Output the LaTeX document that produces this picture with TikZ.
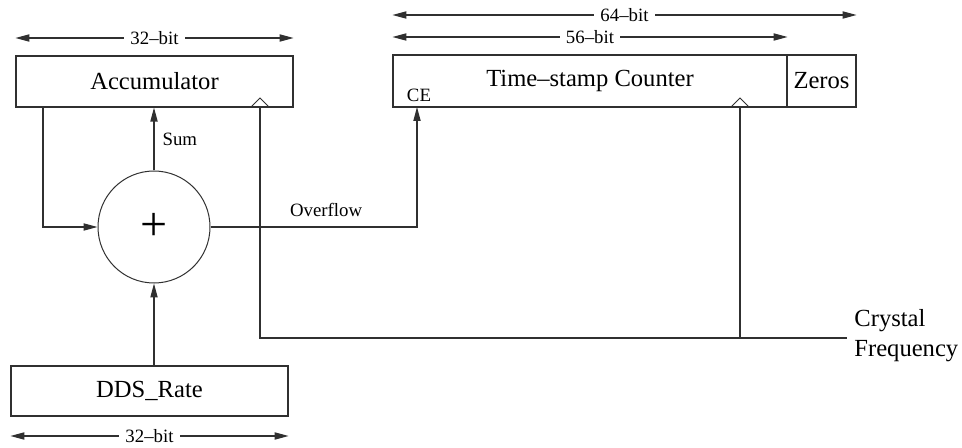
\documentclass[tikz,border=0pt]{standalone}
\usepackage{fontspec}
\setmainfont{Liberation Serif}
\usetikzlibrary{arrows.meta,positioning,calc}
\definecolor{Wire}{HTML}{303030}

\tikzset{
  block/.style={draw=Wire, line width=0.6pt, inner sep=0pt, font=\fontsize{12.3}{14}\selectfont},
  wire/.style={draw=Wire, line width=0.6pt},
  sig/.style={wire, -{Triangle[length=7pt,width=3.6pt]}},
  dim/.style={wire, {Triangle[length=7pt,width=3.6pt]}-{Triangle[length=7pt,width=3.6pt]}},
  dimlabel/.style={fill=white, inner sep=3pt, font=\fontsize{9.4}{11}\selectfont},
  small/.style={font=\fontsize{9.4}{11}\selectfont, inner sep=1pt},
  clk/.style={draw=Wire, line width=0.5pt}
}

\begin{document}
\begin{tikzpicture}[x=0.5pt, y=-0.5pt]
        \useasboundingbox (0,0) rectangle (962,448);

        % blocks
        \node[block, minimum width=138.5pt, minimum height=25.5pt] (acc) at (154.5,81.5) {Accumulator};
        \node[block, minimum width=197pt, minimum height=26pt] (tsc) at (590,81) {Time--stamp Counter};
        \node[block, minimum width=34.5pt, minimum height=26pt] (zeros) at (821.5,81) {Zeros};
        \node[block, minimum width=138.5pt, minimum height=25pt] (dds) at (149.5,391) {DDS\_Rate};
        \node[draw=Wire, line width=0.5pt, circle, minimum size=56pt, inner sep=0pt,
              font=\fontsize{24}{28}\selectfont] (sum) at (154,227) {+};

        % points on the block edges
        \coordinate (fb) at (43,107);
        \coordinate (ce) at (417,107);
        \coordinate (accclk) at (260,107);
        \coordinate (tscclk) at (740,107);
        \coordinate (xtal) at (847,338);

        % clock marks
        \draw[clk] ($(accclk)+(-9,0)$) -- ($(accclk)+(0,-9)$) -- ($(accclk)+(9,0)$);
        \draw[clk] ($(tscclk)+(-9,0)$) -- ($(tscclk)+(0,-9)$) -- ($(tscclk)+(9,0)$);

        % data paths
        \draw[sig] (fb) |- (sum.west);
        \draw[sig] (sum.north) -- (sum.north |- acc.south) node[small, midway, right=3pt] (sumlabel) {Sum};
        \draw[sig] (sum.east) -| (ce) node[small, pos=0.28, above=4pt] (ovf) {Overflow};
        \draw[sig] (sum.south |- dds.north) -- (sum.south);
        \node[small] (celabel) at (419,95) {CE};

        % crystal clock
        \draw[wire] (accclk) |- (xtal);
        \draw[wire] (tscclk) -- (tscclk |- xtal);
        \node[anchor=west, align=left, inner sep=0pt, font=\fontsize{12.3}{15}\selectfont] (crystal) at (854,336) {Crystal\\Frequency};

        % widths
        \draw[dim] (acc.north west |- 0,38) -- node[dimlabel] (w1) {32--bit} (acc.north east |- 0,38);
        \draw[dim] (tsc.north west |- 0,15) -- node[dimlabel] (w2) {64--bit} (zeros.north east |- 0,15);
        \draw[dim] (tsc.north west |- 0,37) -- node[dimlabel] (w3) {56--bit} (tsc.north east |- 0,37);
        \draw[dim] (dds.south west |- 0,436) -- node[dimlabel] (w4) {32--bit} (dds.south east |- 0,436);
      \end{tikzpicture}
\end{document}
